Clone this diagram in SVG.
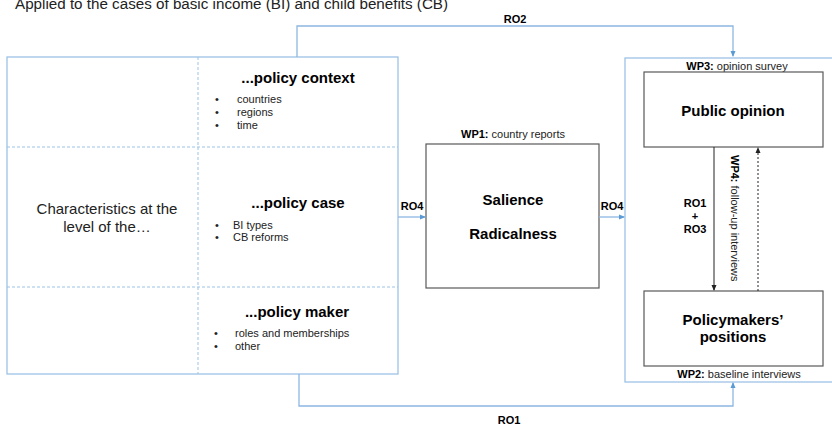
<svg xmlns="http://www.w3.org/2000/svg" width="832" height="426" viewBox="0 0 832 426">
<defs>
<marker id="ab" markerWidth="6" markerHeight="6" refX="5" refY="3" orient="auto" markerUnits="userSpaceOnUse"><path d="M0,0.5 L6,3 L0,5.5 Z" fill="#5b9bd5"/></marker>
<marker id="ak" markerWidth="6" markerHeight="6" refX="5" refY="3" orient="auto" markerUnits="userSpaceOnUse"><path d="M0,0.5 L6,3 L0,5.5 Z" fill="#222"/></marker>
<style>
text{font-family:"Liberation Sans",Arial,sans-serif;fill:#000}
.t{font-size:15.2px;fill:#222}
.h{font-size:15px;font-weight:bold;text-anchor:middle}
.b{font-size:11px;fill:#222}
.lab{font-size:11px;fill:#222}
.bo{font-weight:bold;fill:#000}
.ro{font-size:11px;font-weight:bold;text-anchor:middle}
.frame{fill:none;stroke:#9dc3e6;stroke-width:1.3}
.dash{fill:none;stroke:#9dc3e6;stroke-width:1;stroke-dasharray:3,2}
.box{fill:#fff;stroke:#595959;stroke-width:1.2}
.conn{fill:none;stroke:#8db7e2;stroke-width:1.3}
.ik{fill:none;stroke:#222;stroke-width:1}
</style>
</defs>
<text class="t" x="15" y="9">Applied to the cases of basic income (BI) and child benefits (CB)</text>

<g id="characteristics">
<rect class="frame" x="7" y="57" width="391" height="317"/>
<line class="dash" x1="198" y1="57" x2="198" y2="374"/>
<line class="dash" x1="7" y1="147" x2="398" y2="147"/>
<line class="dash" x1="7" y1="287" x2="398" y2="287"/>
<text x="107" y="214" text-anchor="middle" style="font-size:15px;fill:#222">Characteristics at the</text>
<text x="107" y="232" text-anchor="middle" style="font-size:15px;fill:#222">level of the…</text>
</g>

<g id="policy-context">
<text class="h" x="298" y="83">...policy context</text>
<text class="b" x="215" y="103">•</text><text class="b" x="237" y="103">countries</text>
<text class="b" x="215" y="116">•</text><text class="b" x="237" y="116">regions</text>
<text class="b" x="215" y="129">•</text><text class="b" x="237" y="129">time</text>
</g>

<g id="policy-case">
<text class="h" x="298" y="208">...policy case</text>
<text class="b" x="215" y="229">•</text><text class="b" x="233" y="229">BI types</text>
<text class="b" x="215" y="241">•</text><text class="b" x="233" y="241">CB reforms</text>
</g>

<g id="policy-maker">
<text class="h" x="297" y="317">...policy maker</text>
<text class="b" x="214" y="337">•</text><text class="b" x="235" y="337">roles and memberships</text>
<text class="b" x="214" y="350">•</text><text class="b" x="235" y="350">other</text>
</g>

<g id="wp1">
<text class="lab" x="513" y="138" text-anchor="middle"><tspan class="bo">WP1:</tspan> country reports</text>
<rect class="box" x="426" y="144" width="173" height="144"/>
<text class="h" x="513" y="205">Salience</text>
<text class="h" x="513" y="239">Radicalness</text>
</g>

<g id="outcomes">
<rect class="frame" x="625" y="58" width="210" height="324"/>
<text class="lab" x="737" y="70" text-anchor="middle"><tspan class="bo">WP3:</tspan> opinion survey</text>
<text class="lab" x="739" y="378" text-anchor="middle"><tspan class="bo">WP2:</tspan> baseline interviews</text>
</g>

<g id="public-opinion">
<rect class="box" x="644" y="72" width="179" height="75"/>
<text class="h" x="733" y="116">Public opinion</text>
</g>

<g id="policymakers">
<rect class="box" x="644" y="291" width="179" height="75"/>
<text class="h" x="733" y="325">Policymakers’</text>
<text class="h" x="733" y="342">positions</text>
</g>

<g id="connectors">
<path class="conn" d="M297,57 V26 H733 V56" marker-end="url(#ab)"/>
<text class="ro" x="515" y="23">RO2</text>
<path class="conn" d="M299,374 V406 H733 V383" marker-end="url(#ab)"/>
<text class="ro" x="509" y="424">RO1</text>
<path class="conn" d="M398,217 H425" marker-end="url(#ab)"/>
<text class="ro" x="412" y="210">RO4</text>
<path class="conn" d="M599,217 H624" marker-end="url(#ab)"/>
<text class="ro" x="612" y="210">RO4</text>
<path class="ik" d="M714,147 V290" marker-end="url(#ak)"/>
<path class="ik" d="M758,291 V148" stroke-dasharray="2,2" marker-end="url(#ak)"/>
<text class="ro" x="695" y="207">RO1</text>
<text class="ro" x="695" y="220">+</text>
<text class="ro" x="695" y="233">RO3</text>
<text class="lab" transform="translate(731,155) rotate(90)"><tspan class="bo">WP4:</tspan> follow-up interviews</text>
</g>
</svg>
